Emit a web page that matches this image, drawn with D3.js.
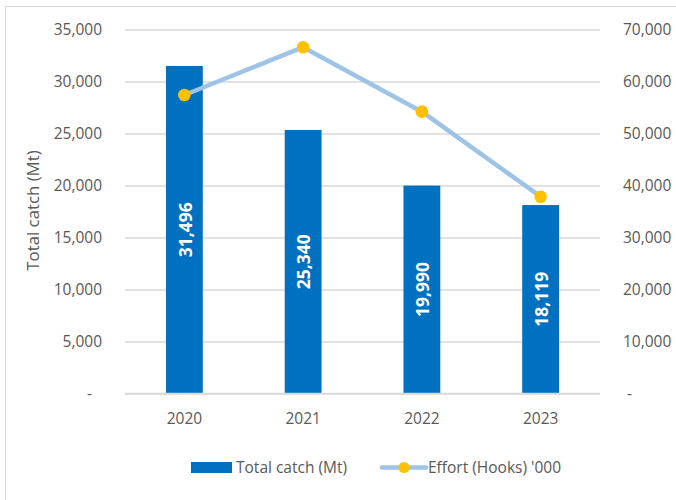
<!DOCTYPE html>
<html><head><meta charset="utf-8">
<script src="https://cdn.jsdelivr.net/npm/d3@7"></script>
<style>html,body{margin:0;padding:0;background:#fff;}svg{display:block;}</style>
</head><body>
<svg id="chart" width="676" height="500"></svg>
<script>
const years = ["2020", "2021", "2022", "2023"];
const totalCatch = [31496, 25340, 19990, 18119];
const effort = [57400, 66600, 54200, 37850];
const leftTicks = [0, 5000, 10000, 15000, 20000, 25000, 30000, 35000];
const leftTickLabels = ["-", "5,000", "10,000", "15,000", "20,000", "25,000", "30,000", "35,000"];
const rightTicks = [0, 10000, 20000, 30000, 40000, 50000, 60000, 70000];
const rightTickLabels = ["-", "10,000", "20,000", "30,000", "40,000", "50,000", "60,000", "70,000"];
const seriesNames = ["Total catch (Mt)", "Effort (Hooks) '000"];
const yTitle = "Total catch (Mt)";

const W = 676, H = 500;
const m = {left: 125, right: 76, top: 29.5, bottom: 106.5};
const svg = d3.select("#chart");
const font = "'Open Sans', 'Noto Sans', sans-serif";
const textCol = "#595959";

svg.append("rect").attr("x", 5.5).attr("y", 6.5).attr("width", 700).attr("height", 600)
  .attr("fill", "none").attr("stroke", "#D9D9D9").attr("stroke-width", 1);

const x = d3.scaleBand().domain(years).range([m.left, W - m.right]).paddingInner(0.69).paddingOuter(0.345);
const yL = d3.scaleLinear().domain([0, 35000]).range([H - m.bottom, m.top]);
const yR = d3.scaleLinear().domain([0, 70000]).range([H - m.bottom, m.top]);

// gridlines
const grid = svg.append("g").call(d3.axisLeft(yL).tickValues(leftTicks).tickSize(-(W - m.left - m.right)).tickFormat(""))
  .attr("transform", `translate(${m.left},0)`);
grid.select(".domain").remove();
grid.selectAll("line").attr("stroke", "#D9D9D9").attr("stroke-width", 1.5);

// left axis labels
const la = svg.append("g").attr("transform", `translate(${m.left},0)`)
  .call(d3.axisLeft(yL).tickValues(leftTicks).tickSize(0).tickPadding(23).tickFormat((d, i) => leftTickLabels[i]));
la.select(".domain").remove();
la.selectAll("text").attr("font-family", font).attr("font-size", 15.5).attr("fill", textCol)
  .attr("dx", (d, i) => leftTickLabels[i] === "-" ? -10 : 0);

// right axis labels
const ra = svg.append("g").attr("transform", `translate(${W - m.right},0)`)
  .call(d3.axisRight(yR).tickValues(rightTicks).tickSize(0).tickPadding(23).tickFormat((d, i) => rightTickLabels[i]));
ra.select(".domain").remove();
ra.selectAll("text").attr("font-family", font).attr("font-size", 15.5).attr("fill", textCol)
  .attr("dx", (d, i) => rightTickLabels[i] === "-" ? 4 : 0);

// bars
svg.append("g").selectAll("rect").data(years).join("rect")
  .attr("x", d => x(d)).attr("width", x.bandwidth())
  .attr("y", (d, i) => yL(totalCatch[i])).attr("height", (d, i) => yL(0) - yL(totalCatch[i]))
  .attr("fill", "#0070C0");

// baseline
svg.append("line").attr("x1", m.left).attr("x2", W - m.right).attr("y1", yL(0)).attr("y2", yL(0))
  .attr("stroke", "#D9D9D9").attr("stroke-width", 1.5);

// bar labels
svg.append("g").selectAll("text").data(years).join("text")
  .attr("transform", (d, i) => `translate(${x(d) + x.bandwidth() / 2 + 1},${(yL(totalCatch[i]) + yL(0)) / 2}) rotate(-90)`)
  .attr("text-anchor", "middle").attr("dy", "0.36em")
  .attr("font-family", font).attr("font-weight", "bold").attr("font-size", 17.5).attr("fill", "#fff")
  .text((d, i) => d3.format(",")(totalCatch[i]));

// line
const cx = d => x(d) + x.bandwidth() / 2;
svg.append("path").datum(years)
  .attr("d", d3.line().x(d => cx(d)).y((d, i) => yR(effort[i])))
  .attr("fill", "none").attr("stroke", "#9DC3E6").attr("stroke-width", 4.5).attr("stroke-linejoin", "round");
svg.append("g").selectAll("circle").data(years).join("circle")
  .attr("cx", d => cx(d)).attr("cy", (d, i) => yR(effort[i])).attr("r", 6.3).attr("fill", "#FFC000");

// category labels
const xa = svg.append("g").attr("transform", `translate(0,${yL(0)})`)
  .call(d3.axisBottom(x).tickSize(0).tickPadding(19));
xa.select(".domain").remove();
xa.selectAll("text").attr("font-family", font).attr("font-size", 15.5).attr("fill", textCol);

// y title
svg.append("text").attr("transform", `translate(39,${(yL(0) + yL(35000)) / 2 - 1}) rotate(-90)`)
  .attr("text-anchor", "middle").attr("font-family", font).attr("font-size", 16.8).attr("fill", textCol)
  .text(yTitle);

// legend
const lg = svg.append("g");
lg.append("rect").attr("x", 191).attr("y", 462).attr("width", 41).attr("height", 11).attr("fill", "#0070C0");
lg.append("text").attr("x", 236).attr("y", 467.5).attr("dy", "0.36em").attr("font-family", font).attr("font-size", 15.5)
  .attr("fill", textCol).text(seriesNames[0]);
lg.append("line").attr("x1", 382).attr("x2", 426).attr("y1", 467.5).attr("y2", 467.5)
  .attr("stroke", "#9DC3E6").attr("stroke-width", 4.5).attr("stroke-linecap", "round");
lg.append("circle").attr("cx", 404).attr("cy", 467.5).attr("r", 5.5).attr("fill", "#FFC000");
lg.append("text").attr("x", 428).attr("y", 467.5).attr("dy", "0.36em").attr("font-family", font).attr("font-size", 15.5)
  .attr("fill", textCol).text(seriesNames[1]);
</script>
</body></html>
